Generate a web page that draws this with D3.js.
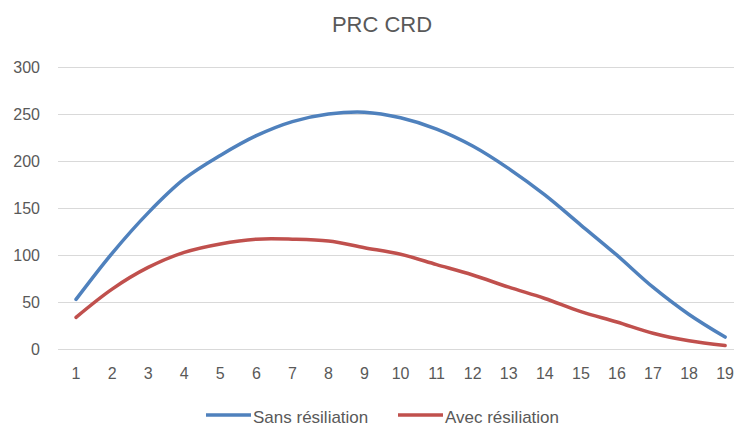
<!DOCTYPE html>
<html>
<head>
<meta charset="utf-8">
<script src="https://cdn.jsdelivr.net/npm/d3@7"></script>
<style>
  html, body { margin: 0; padding: 0; background: #fff; }
  svg { display: block; font-family: "Liberation Sans", Arial, sans-serif; }
</style>
</head>
<body>
<svg id="chart" width="734" height="425"></svg>
<script>
const categories = [1,2,3,4,5,6,7,8,9,10,11,12,13,14,15,16,17,18,19];
const sansResiliation = [53,102,145,181,206,227,242,250,252,246,234,216,192,164,132,100,66,37,13];
const avecResiliation = [34,64,87,103,112,117,117,115,108,101,90,79,66,54,40,29,17,9,4];
const yTicks = [0,50,100,150,200,250,300];
const seriesNames = ["Sans résiliation", "Avec résiliation"];
const seriesColors = ["#4F81BD", "#C0504D"];

const svg = d3.select("#chart");
const plotLeft = 58, plotTop = 67, plotBottom = 349.3;
const step = 36.06;
const plotRight = plotLeft + step * categories.length;

const x = d3.scaleBand().domain(categories).range([plotLeft, plotRight]);
const y = d3.scaleLinear().domain([0, 300]).range([plotBottom, plotTop]);
const cx = d => x(d) + x.bandwidth() / 2;

// title
svg.append("text")
  .attr("x", 382).attr("y", 31.5)
  .attr("text-anchor", "middle")
  .attr("font-size", 22)
  .attr("fill", "#595959")
  .text("PRC CRD");

// gridlines
svg.append("g")
  .selectAll("line")
  .data(yTicks)
  .join("line")
  .attr("x1", plotLeft).attr("x2", plotRight)
  .attr("y1", d => Math.round(y(d)) + 0.5).attr("y2", d => Math.round(y(d)) + 0.5)
  .attr("stroke", "#d9d9d9").attr("stroke-width", 1);

// y axis
const yAxis = svg.append("g")
  .attr("transform", `translate(${plotLeft},0)`)
  .call(d3.axisLeft(y).tickValues(yTicks).tickSize(0).tickPadding(18));
yAxis.select(".domain").remove();
yAxis.selectAll("text").attr("font-size", 16).attr("fill", "#595959")
  .attr("font-family", "Liberation Sans, Arial, sans-serif");

// x axis
const xAxis = svg.append("g")
  .attr("transform", `translate(0,${plotBottom})`)
  .call(d3.axisBottom(x).tickSize(0).tickPadding(18));
xAxis.select(".domain").remove();
xAxis.selectAll("text").attr("font-size", 16).attr("fill", "#595959")
  .attr("font-family", "Liberation Sans, Arial, sans-serif");

// lines
const line = d3.line()
  .x((d, i) => cx(categories[i]))
  .y(d => y(d))
  .curve(d3.curveCatmullRom.alpha(0.5));

[sansResiliation, avecResiliation].forEach((vals, k) => {
  svg.append("path")
    .datum(vals)
    .attr("d", line)
    .attr("fill", "none")
    .attr("stroke", seriesColors[k])
    .attr("stroke-width", 3.5)
    .attr("stroke-linecap", "round")
    .attr("stroke-linejoin", "round");
});

// legend
const legendItems = [
  { name: seriesNames[0], color: seriesColors[0], x0: 206 },
  { name: seriesNames[1], color: seriesColors[1], x0: 398 }
];
const lg = svg.append("g");
legendItems.forEach(it => {
  lg.append("line")
    .attr("x1", it.x0).attr("x2", it.x0 + 45)
    .attr("y1", 415).attr("y2", 415)
    .attr("stroke", it.color).attr("stroke-width", 3.5);
  lg.append("text")
    .attr("x", it.x0 + 47).attr("y", 422.5)
    .attr("font-size", 17).attr("fill", "#595959")
    .text(it.name);
});
</script>
</body>
</html>
